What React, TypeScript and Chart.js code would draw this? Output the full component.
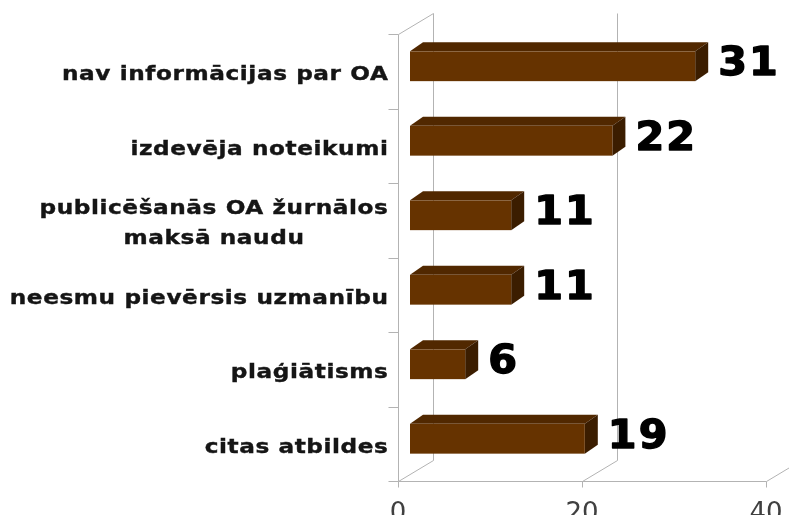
import React, { useEffect, useRef } from "react";
import { Chart, registerables } from "chart.js";

Chart.register(...registerables);

const categories: string[][] = [
  ["nav informācijas par OA"],
  ["izdevēja noteikumi"],
  ["publicēšanās OA žurnālos", "maksā naudu"],
  ["neesmu pievērsis uzmanību"],
  ["plaģiātisms"],
  ["citas atbildes"],
];
const values: number[] = [31, 22, 11, 11, 6, 19];
const xTicks: number[] = [0, 20, 40];

const FRONT = "#663300";
const TOP = "#512800";
const SIDE = "#3b1d00";
const GRID = "#b3b3b3";

const threeD = {
  id: "threeD",
  beforeDatasetsDraw(chart: any) {
    const { ctx, chartArea: a, scales } = chart;
    const xs = scales.x;
    const ys = scales.y;
    const dx = 35;
    const dy = -21;
    ctx.save();
    ctx.strokeStyle = GRID;
    ctx.lineWidth = 1;
    const L = a.left + 0.5;
    const B = a.bottom + 0.5;
    const T = a.top + 0.5;
    ctx.beginPath();
    ctx.moveTo(L, T);
    ctx.lineTo(L, B);
    ctx.moveTo(L, T);
    ctx.lineTo(L + dx, T + dy);
    ctx.moveTo(L, B);
    ctx.lineTo(Math.round(xs.getPixelForValue(xTicks[xTicks.length - 1])) + 0.5, B);
    for (const v of xTicks) {
      const px = Math.round(xs.getPixelForValue(v)) + 0.5;
      ctx.moveTo(px + dx, T + dy);
      ctx.lineTo(px + dx, B + dy);
      ctx.moveTo(px, B);
      ctx.lineTo(px + dx, B + dy);
      ctx.moveTo(px, B);
      ctx.lineTo(px, B + 6);
    }
    const n = categories.length;
    const band = (a.bottom - a.top) / n;
    for (let i = 0; i <= n; i++) {
      const py = Math.round(a.top + i * band) + 0.5;
      ctx.moveTo(L - 10, py);
      ctx.lineTo(L, py);
    }
    ctx.stroke();

    // category labels
    ctx.fillStyle = "#151515";
    ctx.strokeStyle = "#151515";
    ctx.lineWidth = 0.4;
    ctx.font = "bold 20px 'DejaVu Sans'";
    ctx.textBaseline = "middle";
    ctx.textAlign = "center";
    (ctx as any).letterSpacing = "0.5px";
    categories.forEach((lines, i) => {
      const cy = ys.getPixelForValue(i) + 4;
      const lh = 30;
      const sx = 1.16;
      const widths = lines.map((t) => ctx.measureText(t).width * sx);
      const maxW = Math.max(...widths);
      const cx = L - 10 - maxW / 2;
      lines.forEach((t, j) => {
        const ly = cy + (j - (lines.length - 1) / 2) * lh;
        ctx.save();
        ctx.translate(cx, ly);
        ctx.scale(sx, 1);
        ctx.fillText(t, 0, 0);
        ctx.strokeText(t, 0, 0);
        ctx.restore();
      });
    });
    ctx.restore();
  },
  afterDatasetsDraw(chart: any) {
    const { ctx } = chart;
    const meta = chart.getDatasetMeta(0);
    const ox = 12;
    const oy = -5;
    const ddx = 13;
    const ddy = -9;
    ctx.save();
    meta.data.forEach((bar: any, i: number) => {
      const p = bar.getProps(["x", "y", "base", "height"], true);
      const x0 = p.base + ox;
      const x1 = p.x + ox;
      const y0 = p.y - p.height / 2 + oy;
      const y1 = p.y + p.height / 2 + oy;
      ctx.fillStyle = TOP;
      ctx.beginPath();
      ctx.moveTo(x0, y0);
      ctx.lineTo(x0 + ddx, y0 + ddy);
      ctx.lineTo(x1 + ddx, y0 + ddy);
      ctx.lineTo(x1, y0);
      ctx.closePath();
      ctx.fill();
      ctx.fillStyle = SIDE;
      ctx.beginPath();
      ctx.moveTo(x1, y0);
      ctx.lineTo(x1 + ddx, y0 + ddy);
      ctx.lineTo(x1 + ddx, y1 + ddy);
      ctx.lineTo(x1, y1);
      ctx.closePath();
      ctx.fill();
      ctx.fillStyle = FRONT;
      ctx.fillRect(x0, y0, x1 - x0, y1 - y0);
      ctx.save();
      ctx.fillStyle = "#000000";
      ctx.strokeStyle = "#000000";
      ctx.lineWidth = 1.4;
      ctx.lineJoin = "round";
      ctx.font = "bold 39px 'DejaVu Sans'";
      (ctx as any).letterSpacing = "2px";
      ctx.textAlign = "left";
      ctx.textBaseline = "middle";
      ctx.translate(x1 + ddx + 10, (y0 + y1) / 2 - 1);
      ctx.scale(1.06, 1);
      ctx.fillText(String(values[i]), 0, 0);
      ctx.strokeText(String(values[i]), 0, 0);
      ctx.restore();
    });
    ctx.restore();
  },
};

export default function App() {
  const ref = useRef<HTMLCanvasElement>(null);
  useEffect(() => {
    if (!ref.current) return;
    const chart = new Chart(ref.current, {
      type: "bar",
      data: {
        labels: categories.map((c) => c.join(" ")),
        datasets: [
          {
            data: values,
            backgroundColor: "rgba(0,0,0,0)",
            barPercentage: 0.4,
            categoryPercentage: 1.0,
          },
        ],
      },
      options: {
        indexAxis: "y",
        responsive: false,
        animation: false,
        devicePixelRatio: 1,
        layout: { padding: { left: 0, right: 23, top: 34, bottom: 0 } },
        plugins: { legend: { display: false }, tooltip: { enabled: false } },
        scales: {
          x: {
            min: 0,
            max: 40,
            afterBuildTicks: (s: any) => {
              s.ticks = xTicks.map((v) => ({ value: v }));
            },
            afterFit: (s: any) => {
              s.height = 34;
              s.paddingLeft = 0;
              s.paddingRight = 0;
            },
            grid: { display: false, drawTicks: false },
            border: { display: false },
            ticks: {
              padding: 18,
              color: "#404040",
              font: { family: "'DejaVu Sans'", size: 26 },
            },
          },
          y: {
            afterFit: (s: any) => {
              s.width = 398;
            },
            grid: { display: false },
            border: { display: false },
            ticks: { display: false },
          },
        },
      },
      plugins: [threeD],
    });
    return () => chart.destroy();
  }, []);
  return (
    <div style={{ position: "fixed", left: 0, top: 0, width: 789, height: 515, background: "#fff" }}>
      <canvas ref={ref} width={789} height={515} style={{ display: "block" }} />
    </div>
  );
}
